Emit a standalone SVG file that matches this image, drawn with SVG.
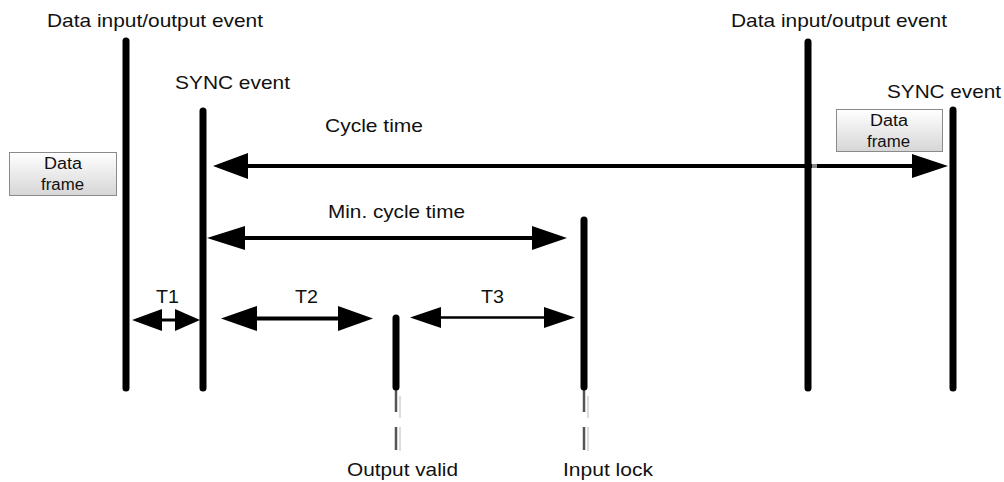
<svg xmlns="http://www.w3.org/2000/svg" width="1004" height="482" viewBox="0 0 1004 482">
<defs>
<linearGradient id="boxg" x1="0" y1="0" x2="0" y2="1">
<stop offset="0" stop-color="#ffffff"/>
<stop offset="1" stop-color="#d6d6d6"/>
</linearGradient>
<style>
.lbl{font-family:"Liberation Sans",Arial,sans-serif;font-size:19px;fill:#111;}
.box{fill:url(#boxg);stroke:#8a8a8a;stroke-width:1;}
.btxt{font-family:"Liberation Sans",Arial,sans-serif;font-size:16px;fill:#111;}
.bar{stroke:#000;stroke-width:7;stroke-linecap:round;fill:none;}
.dash{stroke:#555;stroke-width:2.5;fill:none;}
.shadow{stroke:#dcdcdc;stroke-width:2;fill:none;}
.ln{stroke:#000;fill:none;}
.head{fill:#000;}
</style>
</defs>
<rect width="1004" height="482" fill="#fff"/>

<g id="io-event-1">
<text class="lbl" x="47" y="27" textLength="216" lengthAdjust="spacingAndGlyphs">Data input/output event</text>
<line class="bar" x1="126" y1="41" x2="126" y2="388"/>
</g>
<g id="sync-event-1">
<text class="lbl" x="175" y="89" textLength="115" lengthAdjust="spacingAndGlyphs">SYNC event</text>
<line class="bar" x1="203" y1="111" x2="203" y2="388"/>
</g>
<g id="output-valid">
<line class="shadow" x1="400" y1="396" x2="400" y2="418"/>
<line class="shadow" x1="400" y1="427" x2="400" y2="451"/>
<line class="dash" x1="396" y1="388" x2="396" y2="412"/>
<line class="dash" x1="396" y1="427" x2="396" y2="450"/>
<line class="bar" x1="396" y1="318" x2="396" y2="387"/>
<text class="lbl" x="347" y="476" textLength="111" lengthAdjust="spacingAndGlyphs">Output valid</text>
</g>
<g id="input-lock">
<line class="shadow" x1="588" y1="396" x2="588" y2="418"/>
<line class="shadow" x1="588" y1="427" x2="588" y2="451"/>
<line class="dash" x1="584" y1="388" x2="584" y2="412"/>
<line class="dash" x1="584" y1="427" x2="584" y2="450"/>
<line class="bar" x1="584" y1="220" x2="584" y2="387"/>
<text class="lbl" x="563" y="476" textLength="90" lengthAdjust="spacingAndGlyphs">Input lock</text>
</g>
<g id="io-event-2">
<text class="lbl" x="731" y="27" textLength="216" lengthAdjust="spacingAndGlyphs">Data input/output event</text>
<line class="bar" x1="808" y1="42" x2="808" y2="388"/>
</g>
<g id="sync-event-2">
<text class="lbl" x="887" y="98" textLength="114" lengthAdjust="spacingAndGlyphs">SYNC event</text>
<line class="bar" x1="953" y1="110" x2="953" y2="388"/>
</g>
<g id="data-frame-1">
<rect class="box" x="9.5" y="152.5" width="107" height="43"/>
<text class="btxt" x="44" y="169" textLength="38" lengthAdjust="spacingAndGlyphs">Data</text>
<text class="btxt" x="41" y="190" textLength="43" lengthAdjust="spacingAndGlyphs">frame</text>
</g>
<g id="data-frame-2">
<rect class="box" x="836.5" y="109.5" width="106" height="42"/>
<text class="btxt" x="870" y="126" textLength="38" lengthAdjust="spacingAndGlyphs">Data</text>
<text class="btxt" x="867" y="147" textLength="43" lengthAdjust="spacingAndGlyphs">frame</text>
</g>

<g id="connectors">
<line class="ln" x1="245" y1="166" x2="914" y2="166" stroke-width="4"/>
<rect x="812" y="164" width="5" height="4" fill="#888"/>
<polygon class="head" points="213,166 248,153 248,179"/>
<polygon class="head" points="948,166 912,154 912,178"/>
<text class="lbl" x="325" y="132" textLength="98" lengthAdjust="spacingAndGlyphs">Cycle time</text>
<line class="ln" x1="240" y1="238" x2="535" y2="238" stroke-width="4"/>
<polygon class="head" points="207,238 245,226 245,250"/>
<polygon class="head" points="567,238 532,226 532,250"/>
<text class="lbl" x="328" y="218" textLength="137" lengthAdjust="spacingAndGlyphs">Min. cycle time</text>
<line class="ln" x1="160" y1="320" x2="177" y2="320" stroke-width="3"/>
<polygon class="head" points="132,320 162,309 162,331"/>
<polygon class="head" points="200,320 175,309 175,331"/>
<text class="lbl" x="156" y="303" textLength="23" lengthAdjust="spacingAndGlyphs">T1</text>
<line class="ln" x1="254" y1="318.5" x2="340" y2="318.5" stroke-width="4"/>
<polygon class="head" points="221,318.5 257,306 257,331"/>
<polygon class="head" points="373,318.5 338,306 338,331"/>
<text class="lbl" x="295" y="303" textLength="23" lengthAdjust="spacingAndGlyphs">T2</text>
<line class="ln" x1="438" y1="317.5" x2="547" y2="317.5" stroke-width="2.5"/>
<polygon class="head" points="410,317.5 441,307 441,328"/>
<polygon class="head" points="575,317.5 544,307 544,328"/>
<text class="lbl" x="481" y="303" textLength="23" lengthAdjust="spacingAndGlyphs">T3</text>
</g>
</svg>
